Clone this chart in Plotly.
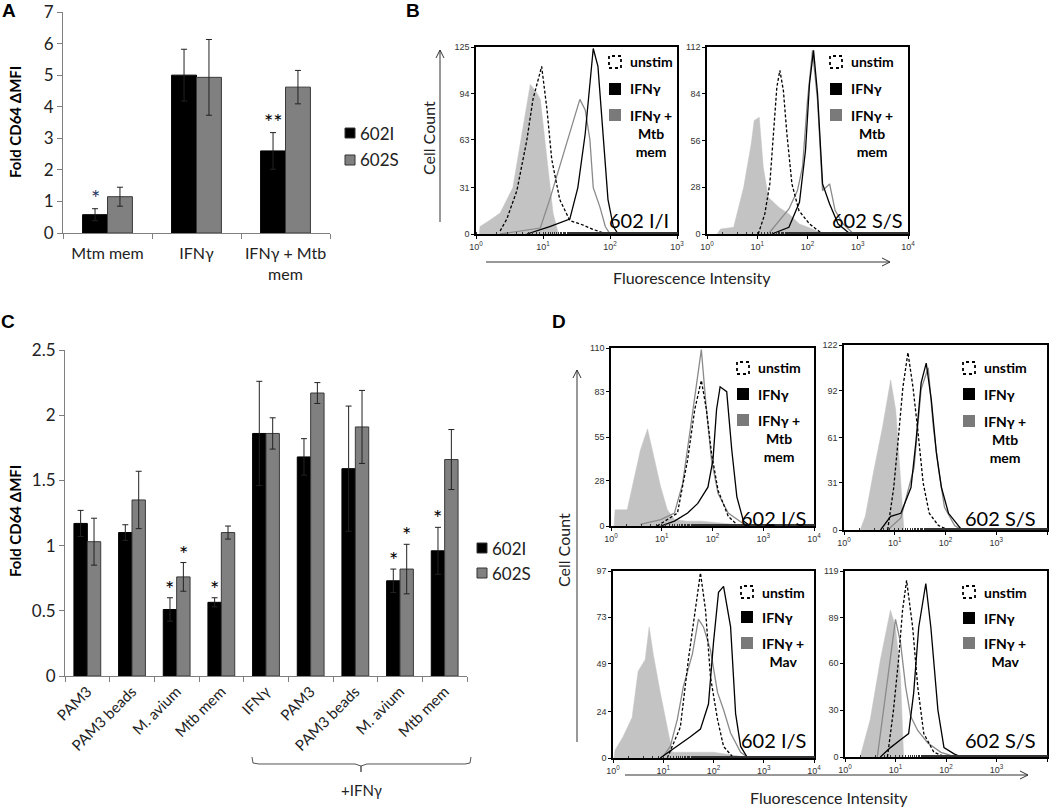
import plotly.graph_objects as go

W, H = 1050, 808


def X(p):
    return p / W


def Y(p):
    return 1 - p / H


# ---------------- Panel A data ----------------
A_CATS = ["Mtm mem", "IFNγ", "IFNγ + Mtb<br>mem"]
A_602I = [0.58, 5.00, 2.60]
A_602I_ERR = [0.19, 0.82, 0.58]
A_602S = [1.15, 4.93, 4.62]
A_602S_ERR = [0.30, 1.20, 0.53]
A_STARS_602I = ["*", "", "**"]
A_YTICKS = [0, 1, 2, 3, 4, 5, 6, 7]

# ---------------- Panel C data ----------------
C_CATS = ["PAM3", "PAM3 beads", "M. avium", "Mtb mem", "IFNγ",
          "PAM3", "PAM3 beads", "M. avium", "Mtb mem"]
C_602I = [1.17, 1.10, 0.51, 0.565, 1.86, 1.68, 1.59, 0.73, 0.96]
C_602I_ERR = [0.10, 0.06, 0.09, 0.035, 0.40, 0.14, 0.48, 0.09, 0.18]
C_602S = [1.03, 1.35, 0.76, 1.10, 1.86, 2.17, 1.91, 0.82, 1.66]
C_602S_ERR = [0.18, 0.22, 0.11, 0.05, 0.12, 0.08, 0.28, 0.19, 0.23]
C_STARS_602I = ["", "", "*", "*", "", "", "", "*", "*"]
C_STARS_602S = ["", "", "*", "", "", "", "", "*", ""]
C_YTICKS = [0, 0.5, 1, 1.5, 2, 2.5]

# ---------------- Histogram data (log10 fluorescence, cell count) ----------------
# B, 602 I/I
BI_ISO_LOG = [0.05, 0.06, 0.20, 0.36, 0.55, 0.70, 0.81, 0.90, 0.96, 1.06, 1.15, 1.23]
BI_ISO_CNT = [0, 5, 9, 14, 31, 72, 100, 95, 90, 50, 14, 0]
BI_UNS_LOG = [0.36, 0.46, 0.61, 0.76, 0.85, 0.98, 1.06, 1.13, 1.25, 1.40, 1.60, 1.75, 1.95]
BI_UNS_CNT = [2, 10, 29, 63, 90, 112, 83, 50, 23, 9, 6, 3, 0]
BI_IFN_LOG = [0.76, 1.10, 1.40, 1.52, 1.63, 1.70, 1.75, 1.82, 1.90, 1.97, 2.05, 2.12]
BI_IFN_CNT = [0, 5, 10, 31, 67, 100, 124, 112, 67, 23, 5, 0]
BI_MTB_LOG = [0.36, 0.96, 1.10, 1.25, 1.40, 1.55, 1.63, 1.70, 1.75, 1.85, 1.93, 2.00]
BI_MTB_CNT = [0, 4, 23, 45, 67, 90, 83, 63, 31, 18, 5, 0]

# B, 602 S/S
BS_ISO_LOG = [0.20, 0.27, 0.53, 0.73, 0.88, 0.94, 1.04, 1.12, 1.22, 1.43, 1.63, 1.84, 2.10, 2.30]
BS_ISO_CNT = [0, 3, 4, 28, 54, 68, 70, 40, 22, 16, 12, 6, 3, 0]
BS_UNS_LOG = [1.02, 1.15, 1.25, 1.32, 1.39, 1.45, 1.52, 1.59, 1.69, 1.83, 2.04, 2.30]
BS_UNS_CNT = [0, 12, 30, 60, 88, 98, 86, 60, 30, 14, 6, 0]
BS_IFN_LOG = [1.29, 1.63, 1.84, 1.96, 2.04, 2.12, 2.20, 2.30, 2.44, 2.61, 2.85]
BS_IFN_CNT = [0, 4, 19, 50, 90, 110, 84, 30, 18, 6, 0]
BS_MTB_LOG = [1.22, 1.63, 1.80, 1.90, 2.00, 2.10, 2.20, 2.30, 2.44, 2.55, 2.71, 2.92]
BS_MTB_CNT = [0, 15, 26, 40, 80, 110, 80, 26, 30, 14, 6, 0]

# D, 602 I/S, Mtb mem
D1_ISO_LOG = [0.06, 0.08, 0.32, 0.44, 0.58, 0.72, 0.85, 0.98, 1.11, 1.25, 1.50, 1.78, 2.44, 2.84]
D1_ISO_CNT = [0, 10, 10, 28, 47, 60, 41, 24, 10, 4, 3, 3, 1, 0]
D1_UNS_LOG = [0.91, 1.31, 1.51, 1.65, 1.78, 1.88, 1.98, 2.11, 2.31, 2.51]
D1_UNS_CNT = [0, 8, 41, 72, 90, 72, 45, 22, 6, 0]
D1_IFN_LOG = [0.98, 1.25, 1.51, 1.71, 1.91, 2.01, 2.08, 2.15, 2.28, 2.38, 2.48, 2.61, 2.75]
D1_IFN_CNT = [0, 3, 8, 14, 24, 41, 72, 86, 83, 47, 18, 3, 0]
D1_STM_LOG = [0.58, 0.98, 1.25, 1.41, 1.55, 1.68, 1.78, 1.88, 1.98, 2.11, 2.31, 2.58, 2.78]
D1_STM_CNT = [1, 4, 8, 26, 57, 88, 109, 72, 41, 20, 8, 2, 0]

# D, 602 S/S, Mtb mem
D2_ISO_LOG = [0.32, 0.42, 0.58, 0.76, 0.92, 1.02, 1.12, 1.18]
D2_ISO_CNT = [0, 9, 38, 68, 99, 79, 31, 0]
D2_UNS_LOG = [0.86, 0.98, 1.08, 1.16, 1.26, 1.36, 1.46, 1.56, 1.68, 1.86, 2.06]
D2_UNS_CNT = [0, 28, 64, 94, 117, 94, 64, 31, 11, 3, 0]
D2_IFN_LOG = [0.72, 0.92, 1.12, 1.32, 1.42, 1.52, 1.62, 1.72, 1.82, 1.92, 2.06, 2.32]
D2_IFN_CNT = [0, 9, 11, 28, 59, 97, 110, 86, 51, 28, 11, 0]
D2_STM_LOG = [0.86, 1.12, 1.38, 1.52, 1.66, 1.76, 1.86, 1.98, 2.18, 2.32]
D2_STM_CNT = [0, 8, 41, 93, 107, 68, 41, 15, 3, 0]

# D, 602 I/S, M. avium
D3_ISO_LOG = [0.02, 0.04, 0.20, 0.38, 0.50, 0.64, 0.72, 0.80, 0.94, 1.08, 1.18, 1.50, 2.00, 2.50, 2.70]
D3_ISO_CNT = [0, 4, 11, 21, 45, 51, 68, 54, 34, 16, 3, 3, 3, 1, 0]
D3_UNS_LOG = [1.08, 1.34, 1.50, 1.64, 1.74, 1.84, 1.94, 2.08, 2.20, 2.40]
D3_UNS_CNT = [0, 16, 51, 77, 96, 77, 42, 20, 6, 0]
D3_IFN_LOG = [0.94, 1.28, 1.54, 1.74, 1.90, 2.00, 2.10, 2.20, 2.34, 2.44, 2.54, 2.68]
D3_IFN_CNT = [0, 6, 11, 15, 28, 60, 86, 89, 68, 23, 6, 0]
D3_STM_LOG = [1.00, 1.14, 1.28, 1.40, 1.58, 1.70, 1.80, 1.94, 2.08, 2.20, 2.34, 2.54, 2.70]
D3_STM_CNT = [1, 6, 20, 37, 54, 72, 68, 56, 34, 25, 13, 3, 0]

# D, 602 S/S, M. avium
D4_ISO_LOG = [0.30, 0.50, 0.70, 0.90, 1.00, 1.10, 1.16]
D4_ISO_CNT = [0, 24, 62, 94, 83, 51, 0]
D4_UNS_LOG = [0.84, 0.96, 1.06, 1.14, 1.22, 1.34, 1.44, 1.56, 1.76, 2.00]
D4_UNS_CNT = [0, 30, 62, 94, 113, 83, 45, 15, 3, 0]
D4_IFN_LOG = [0.70, 0.90, 1.10, 1.26, 1.36, 1.46, 1.60, 1.70, 1.84, 1.96, 2.16, 2.30]
D4_IFN_CNT = [0, 6, 11, 15, 41, 83, 111, 83, 30, 6, 2, 0]
D4_STM_LOG = [0.64, 0.76, 0.90, 1.00, 1.10, 1.20, 1.30, 1.44, 1.64, 1.90, 2.20]
D4_STM_CNT = [0, 30, 62, 88, 73, 45, 26, 17, 9, 3, 0]

HIST_YTICKS = {
    "BI": [0, 31, 63, 94, 125],
    "BS": [0, 28, 56, 84, 112],
    "D1": [0, 28, 55, 83, 110],
    "D2": [0, 31, 61, 92, 122],
    "D3": [0, 24, 49, 73, 97],
    "D4": [0, 30, 60, 89, 119],
}
HIST_DECADES = {"BI": 3, "BS": 4, "D1": 4, "D2": 4, "D3": 4, "D4": 4}
HIST_SAMPLE = {"BI": "602 I/I", "BS": "602 S/S", "D1": "602 I/S",
               "D2": "602 S/S", "D3": "602 I/S", "D4": "602 S/S"}
HIST_STIM = {"BI": "IFNγ +<br>Mtb<br>mem", "BS": "IFNγ +<br>Mtb<br>mem",
             "D1": "IFNγ +<br>Mtb<br>mem", "D2": "IFNγ +<br>Mtb<br>mem",
             "D3": "IFNγ +<br>Mav", "D4": "IFNγ +<br>Mav"}
HIST_DATA = {
    "BI": (BI_ISO_LOG, BI_ISO_CNT, BI_MTB_LOG, BI_MTB_CNT, BI_UNS_LOG, BI_UNS_CNT, BI_IFN_LOG, BI_IFN_CNT),
    "BS": (BS_ISO_LOG, BS_ISO_CNT, BS_MTB_LOG, BS_MTB_CNT, BS_UNS_LOG, BS_UNS_CNT, BS_IFN_LOG, BS_IFN_CNT),
    "D1": (D1_ISO_LOG, D1_ISO_CNT, D1_STM_LOG, D1_STM_CNT, D1_UNS_LOG, D1_UNS_CNT, D1_IFN_LOG, D1_IFN_CNT),
    "D2": (D2_ISO_LOG, D2_ISO_CNT, D2_STM_LOG, D2_STM_CNT, D2_UNS_LOG, D2_UNS_CNT, D2_IFN_LOG, D2_IFN_CNT),
    "D3": (D3_ISO_LOG, D3_ISO_CNT, D3_STM_LOG, D3_STM_CNT, D3_UNS_LOG, D3_UNS_CNT, D3_IFN_LOG, D3_IFN_CNT),
    "D4": (D4_ISO_LOG, D4_ISO_CNT, D4_STM_LOG, D4_STM_CNT, D4_UNS_LOG, D4_UNS_CNT, D4_IFN_LOG, D4_IFN_CNT),
}

# ---------------- layout geometry (pixels) ----------------
# name: (axis index, x0, x1, y_top, y_bottom, legend icon x, row ys, label right x, label y)
HIST_GEOM = {
    "BI": (2, 476, 677, 47, 234, 609, (62, 89, 115), 671, 220),
    "BS": (3, 707, 908, 47, 234, 830, (62, 89, 115), 905, 220),
    "D1": (5, 611, 814, 348, 526, 737, (368, 394, 420), 808, 518),
    "D2": (6, 844, 1047, 345, 530, 963, (368, 394, 421), 1038, 518),
    "D3": (7, 613, 814, 571, 758, 741, (592, 617, 643), 808, 740),
    "D4": (8, 845, 1047, 571, 757, 963, (592, 618, 643), 1038, 740),
}

FONT = "Lato, 'Open Sans', sans-serif"
SMALL = "'Liberation Sans', Arial, sans-serif"
GRAY_BAR = "#808080"
ISO_FILL = "#c3c3c3"
STIM_LINE = "#8a8a8a"

fig = go.Figure()
annotations = []
shapes = []


def note(px, py, text, size, color="#222", xanchor="center", yanchor="middle", **kw):
    annotations.append(dict(x=X(px), y=Y(py), xref="paper", yref="paper", text=text,
                            showarrow=False, xanchor=xanchor, yanchor=yanchor,
                            font=dict(family=kw.pop("family", FONT), size=size, color=color,
                                      weight=kw.pop("weight", "normal")), **kw))


# ---------------- Panel A bars ----------------
BW_A = 0.28
fig.add_trace(go.Bar(
    x=A_CATS, y=A_602I, width=BW_A, offset=-BW_A, xaxis="x", yaxis="y",
    marker=dict(color="black", line=dict(color="black", width=1)),
    error_y=dict(type="data", array=A_602I_ERR, color="#222", thickness=1, width=3),
    showlegend=False))
fig.add_trace(go.Bar(
    x=A_CATS, y=A_602S, width=BW_A, offset=0, xaxis="x", yaxis="y",
    marker=dict(color=GRAY_BAR, line=dict(color="#3a3a3a", width=1)),
    error_y=dict(type="data", array=A_602S_ERR, color="#222", thickness=1, width=3),
    showlegend=False))
for cat, v, e, s in zip(A_CATS, A_602I, A_602I_ERR, A_STARS_602I):
    if s:
        annotations.append(dict(x=cat, y=v + e, xref="x", yref="y", text=s, showarrow=False,
                                xshift=-12.5, xanchor="center", yanchor="bottom", yshift=-4,
                                font=dict(family=FONT, size=22,
                                          color="#1f3864" if s == "*" else "black")))

# ---------------- Panel C bars ----------------
C_KEYS = [(" " if i >= 4 else "") + c for i, c in enumerate(C_CATS)]
BW_C = 0.30
fig.add_trace(go.Bar(
    x=C_KEYS, y=C_602I, width=BW_C, offset=-BW_C, xaxis="x4", yaxis="y4",
    marker=dict(color="black", line=dict(color="black", width=1)),
    error_y=dict(type="data", array=C_602I_ERR, color="#222", thickness=1, width=3),
    showlegend=False))
fig.add_trace(go.Bar(
    x=C_KEYS, y=C_602S, width=BW_C, offset=0, xaxis="x4", yaxis="y4",
    marker=dict(color=GRAY_BAR, line=dict(color="#3a3a3a", width=1)),
    error_y=dict(type="data", array=C_602S_ERR, color="#222", thickness=1, width=3),
    showlegend=False))
for keys, vals, errs, stars, sh in [(C_KEYS, C_602I, C_602I_ERR, C_STARS_602I, -6.7),
                                    (C_KEYS, C_602S, C_602S_ERR, C_STARS_602S, 6.7)]:
    for k, v, e, s in zip(keys, vals, errs, stars):
        if s:
            annotations.append(dict(x=k, y=v + e, xref="x4", yref="y4", text=s, showarrow=False,
                                    xshift=sh, xanchor="center", yanchor="bottom", yshift=-6,
                                    font=dict(family=FONT, size=22, color="black")))

bar_axis_common = dict(showline=True, linecolor="#7f7f7f", linewidth=1, showgrid=False,
                       zeroline=False, ticks="outside", ticklen=5, tickcolor="#7f7f7f",
                       automargin=False)

layout_axes = {}
layout_axes["xaxis"] = dict(domain=[X(63), X(330)], anchor="y", type="category",
                            tickson="boundaries", tickangle=0, ticklabelstandoff=6,
                            tickfont=dict(family=FONT, size=16, color="#222"),
                            **bar_axis_common)
layout_axes["yaxis"] = dict(domain=[Y(233), Y(12)], anchor="x", range=[0, 7], tickvals=A_YTICKS,
                            tickfont=dict(family=FONT, size=17, color="#222"), **bar_axis_common)
layout_axes["xaxis4"] = dict(domain=[X(65), X(467)], anchor="y4", type="category",
                             tickson="boundaries", tickangle=-45,
                             tickfont=dict(family=FONT, size=15, color="#222"), **bar_axis_common)
layout_axes["yaxis4"] = dict(domain=[Y(676), Y(350)], anchor="x4", range=[0, 2.5],
                             tickvals=C_YTICKS, tickfont=dict(family=FONT, size=17, color="#222"),
                             **bar_axis_common)

# bar legends (A and C)
for (sx, sy1, sy2) in [(345, 133, 160), (477, 548, 573)]:
    for sy, col, lab in [(sy1, "black", "602I"), (sy2, GRAY_BAR, "602S")]:
        shapes.append(dict(type="rect", xref="paper", yref="paper",
                           x0=X(sx), x1=X(sx + 10), y0=Y(sy + 5), y1=Y(sy - 5),
                           fillcolor=col, line=dict(color="#333", width=1)))
        note(sx + 13, sy, lab, 17, xanchor="left")

# y titles for bar charts
for yc in (122, 521):
    note(15, yc, "Fold CD64 ΔMFI", 15, color="black", weight="bold", textangle=-90)

# bracket under +IFNγ in C
pts = [(252, 757), (253, 763), (259, 764), (355, 764), (361, 766), (361, 772),
       (361, 766), (367, 764), (465, 764), (470, 763), (471, 757)]
path = "M " + " L ".join(f"{X(a):.5f},{Y(b):.5f}" for a, b in pts)
shapes.append(dict(type="path", path=path, xref="paper", yref="paper",
                   line=dict(color="#555", width=1)))
note(361, 790, "+IFNγ", 15)

# ---------------- Histograms ----------------
for key, geom in HIST_GEOM.items():
    idx, x0, x1, yt, yb, icx, rows, labx, laby = geom
    xa, ya = f"x{idx}", f"y{idx}"
    iso_l, iso_c, stm_l, stm_c, uns_l, uns_c, ifn_l, ifn_c = HIST_DATA[key]
    fig.add_trace(go.Scatter(x=[10 ** v for v in iso_l], y=iso_c, mode="lines", fill="tozeroy",
                             fillcolor=ISO_FILL, line=dict(color=ISO_FILL, width=0.5),
                             xaxis=xa, yaxis=ya, showlegend=False))
    fig.add_trace(go.Scatter(x=[10 ** v for v in stm_l], y=stm_c, mode="lines",
                             line=dict(color=STIM_LINE, width=1.3),
                             xaxis=xa, yaxis=ya, showlegend=False))
    fig.add_trace(go.Scatter(x=[10 ** v for v in uns_l], y=uns_c, mode="lines",
                             line=dict(color="black", width=1.3, dash="3px,2px"),
                             xaxis=xa, yaxis=ya, showlegend=False))
    fig.add_trace(go.Scatter(x=[10 ** v for v in ifn_l], y=ifn_c, mode="lines",
                             line=dict(color="black", width=1.3),
                             xaxis=xa, yaxis=ya, showlegend=False))
    nd = HIST_DECADES[key]
    yt_vals = HIST_YTICKS[key]
    layout_axes[f"xaxis{idx}"] = dict(
        domain=[X(x0), X(x1)], anchor=ya, type="log", range=[0, nd],
        tickvals=[10 ** d for d in range(nd + 1)],
        ticktext=[f"10<sup>{d}</sup>" for d in range(nd + 1)],
        showline=True, mirror=True, linecolor="black", linewidth=1.5,
        ticks="outside", ticklen=3, tickcolor="black", showgrid=False, zeroline=False,
        minor=dict(ticks="inside", ticklen=2, tickwidth=0.7, tickcolor="#333", showgrid=False),
        tickfont=dict(family=SMALL, size=9, color="#333"), automargin=False)
    layout_axes[f"yaxis{idx}"] = dict(
        domain=[Y(yb), Y(yt)], anchor=xa, range=[0, yt_vals[-1]], tickvals=yt_vals,
        showline=True, mirror=True, linecolor="black", linewidth=1.5,
        ticks="outside", ticklen=3, tickcolor="black", showgrid=False, zeroline=False,
        tickfont=dict(family=SMALL, size=9, color="#333"), automargin=False)
    # legend
    s = 12
    for ry, kind in zip(rows, ["uns", "ifn", "stm"]):
        if kind == "uns":
            shapes.append(dict(type="rect", xref="paper", yref="paper",
                               x0=X(icx), x1=X(icx + s), y0=Y(ry + s / 2), y1=Y(ry - s / 2),
                               fillcolor="white", line=dict(color="black", width=1.8, dash="dot")))
        else:
            col = "black" if kind == "ifn" else "#7a7a7a"
            shapes.append(dict(type="rect", xref="paper", yref="paper",
                               x0=X(icx), x1=X(icx + s), y0=Y(ry + s / 2), y1=Y(ry - s / 2),
                               fillcolor=col, line=dict(color=col, width=0)))
    tx = icx + 19
    note(tx, rows[0], "unstim", 14, color="black", xanchor="left", weight="bold")
    note(tx, rows[1], "IFNγ", 14, color="black", xanchor="left", weight="bold")
    note(tx, rows[2] - 10, HIST_STIM[key], 14, color="black", xanchor="left", yanchor="top",
         weight="bold", align="center")
    note(labx, laby, HIST_SAMPLE[key], 20, color="black", xanchor="right")


# arrows for histogram axes titles
def arrow(xa, ya, xb, yb):
    """line from (xa,ya) to head (xb,yb) in pixels with open chevron head"""
    shapes.append(dict(type="line", xref="paper", yref="paper", x0=X(xa), y0=Y(ya),
                       x1=X(xb), y1=Y(yb), line=dict(color="#333", width=1)))
    if xa == xb:
        d = 1 if ya > yb else -1
        for sx in (-4, 4):
            shapes.append(dict(type="line", xref="paper", yref="paper", x0=X(xb), y0=Y(yb),
                               x1=X(xb + sx), y1=Y(yb + d * 8), line=dict(color="#333", width=1)))
    else:
        d = -1 if xb > xa else 1
        for sy in (-4, 4):
            shapes.append(dict(type="line", xref="paper", yref="paper", x0=X(xb), y0=Y(yb),
                               x1=X(xb + d * 8), y1=Y(yb + sy), line=dict(color="#333", width=1)))


arrow(440, 222, 440, 50)
arrow(486, 262, 890, 262)
arrow(577, 742, 577, 370)
arrow(625, 775, 1028, 775)

for (cx, cy) in [(428, 138), (563, 550)]:
    note(cx, cy, "Cell Count", 16, textangle=-90)
for (cx, cy) in [(692, 277), (829, 797)]:
    note(cx, cy, "Fluorescence Intensity", 16)

# panel letters
for lab, (cx, cy) in zip("ABCD", [(9, 10), (413, 10), (8, 321), (559, 321)]):
    note(cx, cy, lab, 19, color="black", family=SMALL, weight="bold")

fig.update_layout(
    width=W, height=H, autosize=False,
    margin=dict(l=0, r=0, t=0, b=0, autoexpand=False),
    paper_bgcolor="white", plot_bgcolor="white",
    barmode="overlay",
    annotations=annotations, shapes=shapes,
    **layout_axes,
)

fig.write_html("out.html",
               config={"displayModeBar": False},
               post_script="document.body.style.margin='0';"
                           "document.documentElement.style.overflow='hidden';")
